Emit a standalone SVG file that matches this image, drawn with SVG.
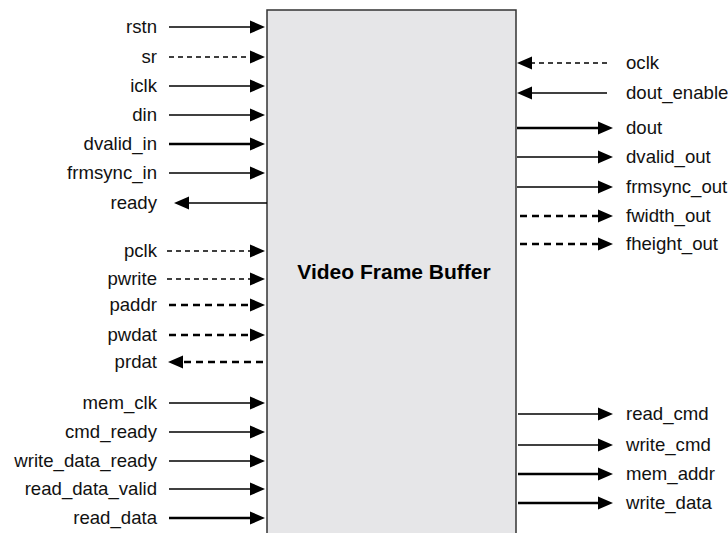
<svg xmlns="http://www.w3.org/2000/svg" width="728" height="533" viewBox="0 0 728 533">
<defs>
<marker id="ah" markerUnits="userSpaceOnUse" markerWidth="16" markerHeight="14" viewBox="0 0 16 14" refX="1" refY="7" orient="auto">
<path d="M0,0.5 L15,7 L0,13.5 z" fill="#000"/>
</marker>
</defs>
<style>
.lbl{font-family:"Liberation Sans",Arial,sans-serif;font-size:18.6px;fill:#111}
.l{text-anchor:end}
.t{font-family:"Liberation Sans",Arial,sans-serif;font-size:21px;font-weight:bold;fill:#000;text-anchor:middle}
.c{stroke:#000;stroke-width:1.4;fill:none;marker-end:url(#ah)}
.w{stroke-width:2.4}
.d{stroke-dasharray:5,4}
.dw{stroke-width:2.4;stroke-dasharray:7,5}
</style>
<rect width="728" height="533" fill="#fff"/>
<g id="block">
<rect x="267" y="10" width="249" height="540" fill="#e6e6e8" stroke="#333" stroke-width="1.5"/>
<text class="t" x="394" y="279">Video Frame Buffer</text>
</g>
<g id="connectors">
<line class="c" x1="169" y1="27" x2="251" y2="27"/>
<line class="c d" x1="169" y1="57" x2="251" y2="57"/>
<line class="c" x1="169" y1="86" x2="251" y2="86"/>
<line class="c" x1="169" y1="115" x2="251" y2="115"/>
<line class="c w" x1="169" y1="144" x2="251" y2="144"/>
<line class="c" x1="169" y1="173" x2="251" y2="173"/>
<line class="c" x1="267" y1="203" x2="188" y2="203"/>
<line class="c d" x1="167" y1="251" x2="251" y2="251"/>
<line class="c d" x1="167" y1="279" x2="251" y2="279"/>
<line class="c dw" x1="169" y1="305" x2="251" y2="305"/>
<line class="c dw" x1="169" y1="335" x2="251" y2="335"/>
<line class="c dw" x1="263" y1="362" x2="182" y2="362"/>
<line class="c" x1="169" y1="403" x2="251" y2="403"/>
<line class="c" x1="169" y1="432" x2="251" y2="432"/>
<line class="c" x1="169" y1="461" x2="251" y2="461"/>
<line class="c" x1="169" y1="489" x2="251" y2="489"/>
<line class="c w" x1="169" y1="518" x2="251" y2="518"/>
<line class="c d" x1="607" y1="63" x2="531" y2="63"/>
<line class="c" x1="607" y1="93" x2="531" y2="93"/>
<line class="c w" x1="517" y1="128" x2="599" y2="128"/>
<line class="c" x1="517" y1="157" x2="599" y2="157"/>
<line class="c" x1="517" y1="187" x2="599" y2="187"/>
<line class="c dw" x1="520" y1="216" x2="599" y2="216"/>
<line class="c dw" x1="520" y1="244" x2="599" y2="244"/>
<line class="c" x1="518" y1="414" x2="599" y2="414"/>
<line class="c" x1="518" y1="445" x2="599" y2="445"/>
<line class="c w" x1="518" y1="474" x2="599" y2="474"/>
<line class="c w" x1="518" y1="503" x2="599" y2="503"/>
</g>
<g id="labels-left">
<text class="lbl l" x="157" y="33">rstn</text>
<text class="lbl l" x="157" y="63">sr</text>
<text class="lbl l" x="157" y="92">iclk</text>
<text class="lbl l" x="157" y="121">din</text>
<text class="lbl l" x="157" y="150">dvalid_in</text>
<text class="lbl l" x="157" y="179">frmsync_in</text>
<text class="lbl l" x="157" y="209">ready</text>
<text class="lbl l" x="157" y="257">pclk</text>
<text class="lbl l" x="157" y="285">pwrite</text>
<text class="lbl l" x="157" y="311">paddr</text>
<text class="lbl l" x="157" y="341">pwdat</text>
<text class="lbl l" x="157" y="368">prdat</text>
<text class="lbl l" x="157" y="409">mem_clk</text>
<text class="lbl l" x="157" y="438">cmd_ready</text>
<text class="lbl l" x="157" y="467">write_data_ready</text>
<text class="lbl l" x="157" y="495">read_data_valid</text>
<text class="lbl l" x="157" y="524">read_data</text>
</g>
<g id="labels-right">
<text class="lbl" x="626" y="69">oclk</text>
<text class="lbl" x="626" y="99">dout_enable</text>
<text class="lbl" x="626" y="134">dout</text>
<text class="lbl" x="626" y="163">dvalid_out</text>
<text class="lbl" x="626" y="193">frmsync_out</text>
<text class="lbl" x="626" y="222">fwidth_out</text>
<text class="lbl" x="626" y="250">fheight_out</text>
<text class="lbl" x="626" y="420">read_cmd</text>
<text class="lbl" x="626" y="451">write_cmd</text>
<text class="lbl" x="626" y="480">mem_addr</text>
<text class="lbl" x="626" y="509">write_data</text>
</g>
</svg>
